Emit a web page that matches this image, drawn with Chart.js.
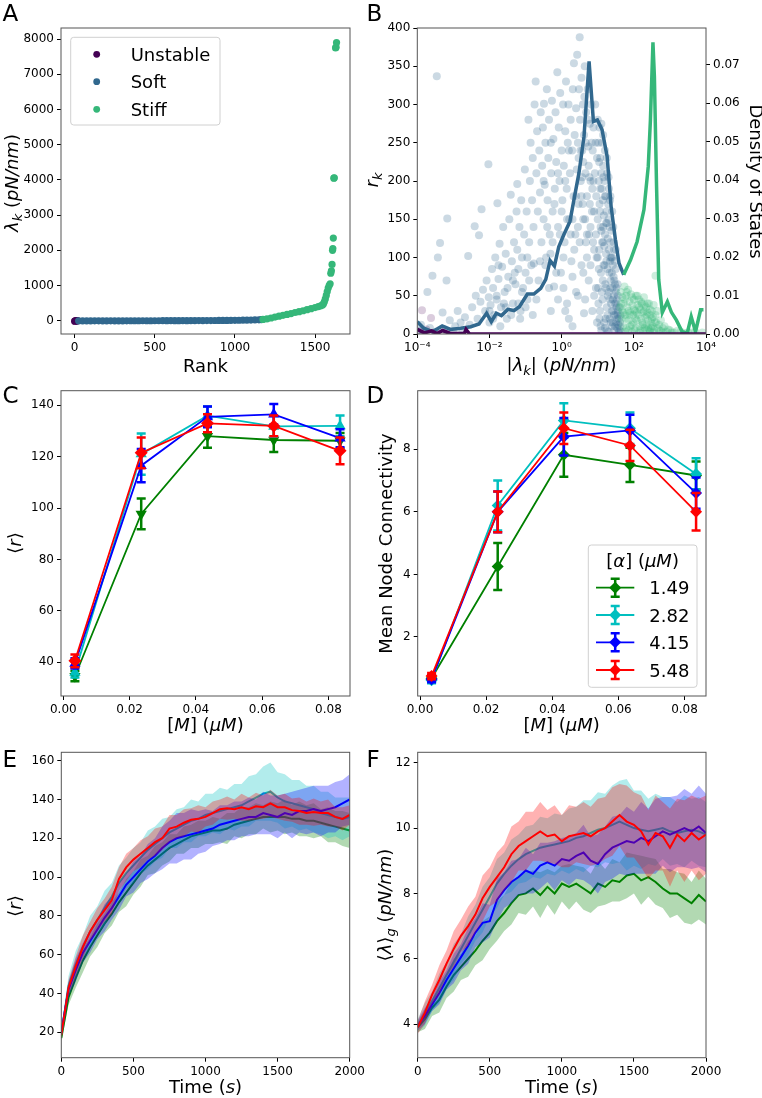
<!DOCTYPE html>
<html>
<head>
<meta charset="utf-8">
<script src="https://cdn.jsdelivr.net/npm/chart.js@4.4.1/dist/chart.umd.min.js"></script>
<style>
body { margin: 0; background: #fff; }
#fig { position: relative; width: 762px; height: 1098px; overflow: hidden; }
canvas { position: absolute; }
svg { position: absolute; left: 0; top: 0; }
</style>
</head>
<body>
<div id="fig">
<canvas id="pA" width="381" height="360" style="left:0;top:0"></canvas>
<canvas id="pB" width="381" height="360" style="left:381px;top:0"></canvas>
<canvas id="pC" width="381" height="360" style="left:0;top:360px"></canvas>
<canvas id="pD" width="381" height="360" style="left:381px;top:360px"></canvas>
<canvas id="pE" width="381" height="378" style="left:0;top:720px"></canvas>
<canvas id="pF" width="381" height="378" style="left:381px;top:720px"></canvas>
<svg id="txt" width="762" height="1098" font-family="DejaVu Sans" fill="#000">
  <text x="2.5" y="20.7" font-size="23">A</text>
  <text x="366.5" y="20.7" font-size="23">B</text>
  <text x="2.5" y="403.3" font-size="23">C</text>
  <text x="366.5" y="403.3" font-size="23">D</text>
  <text x="2.5" y="766.7" font-size="23">E</text>
  <text x="366.5" y="766.7" font-size="23">F</text>

  <text x="205.5" y="372" text-anchor="middle" font-size="18">Rank</text>
  <text x="561.6" y="371" text-anchor="middle" font-size="18"><tspan font-style="italic">|λ</tspan><tspan font-style="italic" font-size="13" dy="4">k</tspan><tspan font-style="italic" dy="-4">|</tspan> (<tspan font-style="italic">pN/nm</tspan>)</text>
  <text x="205.5" y="731" text-anchor="middle" font-size="18">[<tspan font-style="italic">M</tspan>] (<tspan font-style="italic">μM</tspan>)</text>
  <text x="561.6" y="731" text-anchor="middle" font-size="18">[<tspan font-style="italic">M</tspan>] (<tspan font-style="italic">μM</tspan>)</text>
  <text x="205.5" y="1093" text-anchor="middle" font-size="18">Time (<tspan font-style="italic">s</tspan>)</text>
  <text x="561.6" y="1093" text-anchor="middle" font-size="18">Time (<tspan font-style="italic">s</tspan>)</text>

  <text transform="translate(18,183) rotate(-90)" text-anchor="middle" font-size="18"><tspan font-style="italic">λ</tspan><tspan font-style="italic" font-size="13" dy="4">k</tspan><tspan dy="-4"> (</tspan><tspan font-style="italic">pN/nm</tspan>)</text>
  <text transform="translate(378,180) rotate(-90)" text-anchor="middle" font-size="18"><tspan font-style="italic">r</tspan><tspan font-style="italic" font-size="13" dy="4">k</tspan></text>
  <text transform="translate(749.5,181.5) rotate(90)" text-anchor="middle" font-size="18">Density of States</text>
  <text transform="translate(21,543) rotate(-90)" text-anchor="middle" font-size="18">⟨<tspan font-style="italic">r</tspan>⟩</text>
  <text transform="translate(392,543.5) rotate(-90)" text-anchor="middle" font-size="18">Mean Node Connectivity</text>
  <text transform="translate(21,906) rotate(-90)" text-anchor="middle" font-size="18">⟨<tspan font-style="italic">r</tspan>⟩</text>
  <text transform="translate(391,905) rotate(-90)" text-anchor="middle" font-size="18">⟨<tspan font-style="italic">λ</tspan>⟩<tspan font-style="italic" font-size="13" dy="4">g</tspan><tspan dy="-4"> (</tspan><tspan font-style="italic">pN/nm</tspan>)</text>
  <g id="legA"></g>
  <g id="legD"></g>
</svg>
</div>
<script>
// ---- panel A : eigenvalue vs rank ----
const stateNames = ['Unstable', 'Soft', 'Stiff'];
const stateColors = ['#440154', '#31688e', '#35b779'];
const unstableRank = [0, 4, 8, 12, 16, 20];
const unstableLam = [-12, -4, -1.5, -0.6, -0.2, -0.05];
const softRank = [25, 50, 75, 100, 125, 150, 175, 200, 225, 250, 275, 300, 325, 350, 375, 400, 425, 450, 475, 500,
  525, 550, 575, 600, 625, 650, 675, 700, 725, 750, 775, 800, 825, 850, 875, 900, 925, 950, 975, 1000,
  1025, 1050, 1075, 1100, 1125, 1150, 1165];
const softLam = [0.001, 0.003, 0.008, 0.015, 0.03, 0.05, 0.08, 0.12, 0.17, 0.23, 0.3, 0.4, 0.5, 0.62, 0.76, 0.9, 1.05, 1.2, 1.4, 1.6,
  1.8, 2.05, 2.3, 2.6, 2.9, 3.2, 3.6, 4.0, 4.5, 5.0, 5.6, 6.2, 6.9, 7.6, 8.4, 9.3, 10.3, 11.4, 12.6, 14,
  15.5, 17, 19, 21, 24, 28, 32];
const stiffRank = [1175, 1200, 1225, 1250, 1275, 1300, 1325, 1350, 1375, 1400, 1425, 1450, 1475, 1500, 1520, 1535, 1545, 1552, 1558, 1564,
  1570, 1576, 1582, 1588, 1594, 1598, 1602, 1606, 1609, 1611, 1614, 1617, 1620, 1628, 1631, 1634];
const stiffLam = [40, 55, 80, 105, 130, 155, 180, 205, 235, 260, 285, 315, 345, 375, 405, 425, 445, 480, 540, 620,
  720, 830, 930, 1000, 1050, 1350, 1420, 1600, 2000, 2050, 2350, 4050, 4060, 7750, 7770, 7900];
const rankTicks = [0, 500, 1000, 1500];
const lamTicks = [0, 1000, 2000, 3000, 4000, 5000, 6000, 7000, 8000];

// ---- panel B : participation vs |lambda| (log10 |lambda|, r) ----
const softPts = [[-3.95,4],[-3.9,12],[-3.85,2],[-3.72,55],[-3.65,8],[-3.58,76],[-3.5,3],[-3.46,337],[-3.43,100],[-3.37,119],
  [-3.3,28],[-3.25,6],[-3.19,70],[-3.17,151],[-3.1,18],[-3.0,4],[-2.95,10],[-2.88,30],[-2.8,15],[-2.75,3],
  [-2.68,22],[-2.59,102],[-2.55,12],[-2.48,35],[-2.41,141],[-2.38,50],[-2.33,20],[-2.29,129],[-2.25,42],[-2.22,163],
  [-2.18,58],[-2.12,30],[-2.08,70],[-2.03,222],[-2.02,48],[-2.0,15],
  [-1.97,38],[-1.93,85],[-1.9,60],[-1.87,25],[-1.84,100],[-1.8,45],[-1.78,171],[-1.75,72],[-1.72,118],[-1.68,35],
  [-1.65,88],[-1.62,140],[-1.58,55],[-1.55,105],[-1.52,20],[-1.48,75],[-1.45,150],[-1.41,182],[-1.38,95],[-1.35,40],
  [-1.32,120],[-1.28,65],[-1.25,160],[-1.23,196],[-1.23,110],[-1.2,85],[-1.17,140],[-1.14,30],[-1.12,175],[-1.1,100],
  [-1.07,60],[-1.04,130],[-1.02,215],[-1.0,80],
  [-0.97,160],[-0.95,45],[-0.92,280],[-0.9,120],[-0.88,200],[-0.86,250],[-0.84,90],[-0.82,175],[-0.8,230],[-0.78,140],
  [-0.77,92],[-0.75,300],[-0.72,330],[-0.7,210],[-0.68,265],[-0.66,160],[-0.64,70],[-0.62,240],[-0.6,185],[-0.58,290],
  [-0.56,120],[-0.54,220],[-0.52,270],[-0.5,150],[-0.49,301],[-0.47,195],[-0.45,250],[-0.43,100],[-0.41,320],[-0.39,175],
  [-0.37,230],[-0.35,280],[-0.33,130],[-0.31,105],[-0.29,210],[-0.27,305],[-0.25,160],[-0.23,255],[-0.21,62],[-0.19,190],
  [-0.17,290],[-0.15,225],[-0.12,342],[-0.1,140],[-0.08,270],[-0.06,200],[-0.04,315],[-0.02,80],[0,240],
  [0.02,175],[0.04,300],[0.06,220],[0.08,120],[0.1,265],[0.12,330],[0.14,190],[0.15,40],[0.17,250],[0.19,300],
  [0.21,150],[0.23,210],[0.25,280],[0.27,95],[0.29,240],[0.31,320],[0.33,180],[0.34,354],[0.36,260],[0.38,130],
  [0.4,295],[0.42,215],[0.43,365],[0.45,250],[0.47,170],[0.48,320],[0.5,388],[0.51,280],[0.53,200],[0.55,335],
  [0.57,240],[0.59,300],[0.6,150],[0.62,27],[0.62,260],[0.64,350],[0.66,210],[0.68,290],[0.7,180],[0.72,320],
  [0.74,245],[0.76,130],[0.78,275],[0.8,200],[0.82,300],[0.84,160],[0.86,240],[0.88,270],[0.9,110],[0.92,210],
  [0.94,250],[0.96,180],[0.98,230],[1.0,280],
  [0.05,60],[0.2,20],[0.3,75],[0.45,50],[0.55,90],[0.65,45],[0.75,70],[0.85,30],[0.95,60],
  [1.0,150],[1.01,60],[1.02,250],[1.03,200],[1.04,110],[1.05,170],[1.06,30],[1.07,230],[1.08,140],[1.09,80],
  [1.1,210],[1.11,190],[1.12,120],[1.13,45],[1.14,175],[1.15,220],[1.16,90],[1.17,155],[1.18,15],[1.19,200],
  [1.2,130],[1.21,65],[1.22,180],[1.23,105],[1.24,160],[1.25,35],[1.26,145],[1.27,85],[1.28,125],[1.29,170],
  [1.3,55],[1.31,110],[1.32,140],[1.33,20],[1.34,95],[1.35,120],[1.36,70],[1.37,40],[1.38,100],[1.39,80],
  [1.4,10],[1.41,60],[1.42,90],[1.43,30],[1.44,75],[1.45,50],[1.46,5],[1.47,40],[1.48,65],[1.49,25],
  [1.5,55],[1.51,15],[1.52,35],[1.53,45],[1.54,8],[1.55,25],[1.56,30],[1.57,12],[1.58,20],[1.6,5],
  [1.62,15],[1.64,3],[1.1,5],[1.2,8],[1.3,3],[1.15,260],[1.05,270],[1.25,230],[1.35,180],[1.45,110],
  [1.0,100],[1.02,40],[1.04,225],[1.06,160],[1.08,10],[1.1,135],[1.12,250],[1.14,70],[1.16,205],[1.18,115],
  [1.2,180],[1.22,20],[1.24,95],[1.26,210],[1.28,50],[1.3,150],[1.32,80],[1.34,175],[1.36,15],[1.38,135],
  [1.4,100],[1.42,45],[1.44,120],[1.46,70],[1.48,10],[1.5,85],[1.52,60],[1.54,20],[1.56,50],[1.58,2],
  [1.03,85],[1.07,190],[1.11,55],[1.15,140],[1.19,90],[1.23,145],[1.27,25],[1.31,190],[1.35,60],[1.39,30],
  [1.43,140],[1.47,95],[1.51,40],[1.55,65],[1.59,35],[1.61,10],[1.63,25],[1.05,20],[1.25,5],[1.45,25],
  [1.2,240],[1.1,275],[1.3,205],[1.4,160],[1.15,120],[1.35,100],[1.5,110],[1.22,60],[1.33,45],[1.41,15],
  [0.5,120],[0.55,180],[0.6,225],[0.65,150],[0.7,100],[0.75,220],[0.8,140],[0.85,190],[0.9,160],[0.95,130],
  [0.52,240],[0.58,170],[0.63,310],[0.67,120],[0.73,280],[0.78,170],[0.83,250],[0.88,200],[0.93,300],[0.97,100],
  [0.6,80],[0.7,130],[0.8,90],[0.9,50],[0.98,15],[0.87,120],[0.77,205],[0.67,250],[0.57,205],[0.47,230],
  [-0.5,200],[-0.4,140],[-0.3,250],[-0.2,170],[-0.1,210],[0,160],[0.1,200],[0.2,240],[0.3,150],[0.4,180],
  [-0.45,90],[-0.35,60],[-0.25,120],[-0.15,80],[-0.05,130],[0.05,100],[0.15,150],[0.25,130],[0.35,110],[0.45,140],
  [-0.3,30],[-0.1,45],[0.1,30],[0.3,10],[0.4,55],
  [-2.0,30],[-1.9,20],[-1.8,50],[-1.7,10],[-1.6,40],[-1.5,60],[-1.4,25],[-1.3,80],[-1.2,40],[-1.1,55],
  [-1.0,35],[-0.9,70],[-0.8,25],[-0.7,45],[-0.6,95],[-1.75,90],[-1.55,35],[-1.35,70],[-1.15,20],[-0.95,100]];
const stiffPts = [[1.62,35],[1.64,55],[1.66,20],[1.68,48],[1.7,10],[1.72,40],[1.74,62],[1.76,25],[1.78,50],[1.8,8],
  [1.82,35],[1.84,58],[1.86,18],[1.88,42],[1.9,28],[1.92,52],[1.94,12],[1.96,38],[1.98,25],[2.0,45],
  [2.02,5],[2.04,30],[2.06,50],[2.08,18],[2.1,38],[2.12,25],[2.14,45],[2.16,10],[2.18,32],[2.2,20],
  [2.22,40],[2.24,15],[2.26,28],[2.28,48],[2.3,8],[2.32,22],[2.34,35],[2.36,12],[2.38,28],[2.4,18],
  [2.42,40],[2.44,5],[2.46,25],[2.48,15],[2.5,30],[2.52,10],[2.54,22],[2.56,6],[2.6,76],[2.62,15],
  [2.65,8],[2.7,12],[2.75,4],[2.8,8],[2.9,3],[3.0,5],[3.1,2],[3.3,3],[3.5,2],[3.7,3],[3.9,2],
  [1.75,3],[1.85,5],[1.95,3],[2.05,8],[2.15,2],[2.25,4],[2.35,6],[2.45,3],[2.55,2],
  [1.65,40],[1.7,28],[1.75,45],[1.8,55],[1.85,30],[1.9,10],[1.95,48],[2.0,32],[2.05,20],[2.1,50],
  [2.15,35],[2.2,42],[2.25,12],[2.3,38],[2.35,25],[2.4,8],[2.45,32],[2.5,20],[2.55,38],[2.6,25],
  [2.65,30],[2.7,5],[2.75,18],[2.8,2],[2.85,10],[2.95,6],[3.05,2],[3.2,4],[3.4,1],[3.6,2],
  [1.68,30],[1.78,20],[1.88,25],[1.98,15],[2.08,28],[2.18,5],[2.28,30],[2.38,40],[2.48,8],[2.58,15]];
const unstablePts = [[-3.87,31],[-3.62,21],[-3.9,3],[-3.75,6],[-3.5,2],[-3.2,4]];
// density of states curves (log10 |lambda|, density)
const softDos = [[-4,0.0032],[-3.82,0.0015],[-3.58,0.0006],[-3.31,0.0021],[-3.08,0.0012],[-2.8,0.0015],[-2.52,0.0019],[-2.29,0.0026],
  [-2.08,0.0054],[-1.95,0.0032],[-1.81,0.0054],[-1.67,0.0048],[-1.49,0.0064],[-1.32,0.0061],[-1.17,0.0071],[-0.95,0.0104],
  [-0.77,0.0104],[-0.58,0.0119],[-0.44,0.0142],[-0.32,0.0191],[-0.2,0.0177],[-0.08,0.0227],[0.06,0.0258],[0.23,0.0293],
  [0.34,0.0349],[0.48,0.0419],[0.62,0.0514],[0.76,0.0709],[0.88,0.0553],[0.99,0.0557],[1.12,0.0531],[1.26,0.0462],
  [1.37,0.0332],[1.49,0.0245],[1.59,0.0184],[1.72,0.0154]];
const stiffDos = [[1.72,0.0154],[1.91,0.0193],[2.09,0.024],[2.28,0.0323],[2.4,0.0436],[2.46,0.0557],[2.53,0.0759],[2.57,0.067],
  [2.63,0.0384],[2.69,0.0141],[2.79,0.0056],[2.93,0.0084],[3.04,0.0057],[3.18,0.0036],[3.34,0.0006],[3.48,0.0002],
  [3.59,0.0045],[3.71,0.0006],[3.85,0.0063],[3.93,0.0063]];
const unstableDos = [[-4,0.0012],[-3.8,0.0003],[-3.6,0.0008],[-3.45,0.0001],[-3.3,0.0009],[-3.1,0.0002],[-2.7,0.0001],
  [-2.65,0.0012],[-2.55,0],[4,0]];
const logTicks = [1e-4, 1e-2, 1, 1e2, 1e4];
const logTickLabels = ['10\u207B\u2074', '10\u207B\u00B2', '10\u2070', '10\u00B2', '10\u2074'];
const rTicks = [0, 50, 100, 150, 200, 250, 300, 350, 400];
const dosTicks = [0, 0.01, 0.02, 0.03, 0.04, 0.05, 0.06, 0.07];

// ---- panels C, D : vs myosin concentration ----
const alphaNames = ['1.49', '2.82', '4.15', '5.48'];
const alphaColors = ['#008000', '#00bfbf', '#0000ff', '#ff0000'];
const myosin = [0.0035, 0.0235, 0.0435, 0.0635, 0.0835];
const rMean = [
  [34.5, 97.7, 128, 126.5, 126.2],
  [36, 121, 136, 131.8, 132],
  [39.5, 116.5, 135.5, 136.5, 127.2],
  [40.5, 121.5, 133, 132, 122.3]];
const rErr = [
  [2, 6, 4.5, 4.7, 3],
  [2, 8, 3.5, 4, 4],
  [2, 6.5, 4, 4, 3.5],
  [2.5, 6, 3.5, 4, 5.2]];
const connMean = [
  [0.68, 4.25, 7.82, 7.5, 7.16],
  [0.62, 6.2, 8.92, 8.67, 7.21],
  [0.65, 6.0, 8.4, 8.6, 6.6],
  [0.75, 6.0, 8.67, 8.12, 6.0]];
const connErr = [
  [0.1, 0.75, 0.7, 0.55, 0.45],
  [0.1, 0.8, 0.55, 0.5, 0.5],
  [0.1, 0.65, 0.6, 0.5, 0.5],
  [0.1, 0.65, 0.5, 0.5, 0.6]];
const markerC = ['triangle', 'triangle', 'triangle', 'rectRot'];
const rotC = [180, 0, 0, 0];
const myoTicks = [0, 0.02, 0.04, 0.06, 0.08];
const rTicksC = [40, 60, 80, 100, 120, 140];
const connTicks = [2, 4, 6, 8];

// ---- panels E, F : time courses ----
const timeS = [0, 50, 100, 150, 200, 250, 300, 350, 400, 450, 500, 550, 600, 650, 700, 750, 800, 850, 900, 950,
  1000, 1050, 1100, 1150, 1200, 1250, 1300, 1350, 1400, 1450, 1500, 1550, 1600, 1650, 1700, 1750, 1800, 1850, 1900, 1950, 2000];
const rTime = [
  [17, 38, 48, 57, 64, 70, 76, 81, 87, 92, 97, 102, 106, 109, 112, 115, 117, 119, 121, 122, 123, 124, 124, 125, 127, 128, 129, 130, 131, 131, 131, 131, 130, 130, 129, 129, 128, 127, 126, 125, 124],
  [19, 44, 55, 64, 72, 78, 84, 90, 97, 102, 106, 110, 114, 117, 120, 123, 125, 127, 129, 130, 132, 133, 134, 135, 136, 137, 139, 141, 143, 144, 141, 139, 138, 137, 136, 135, 133, 132, 131, 130, 131],
  [20, 42, 52, 61, 67, 73, 79, 84, 90, 96, 100, 104, 108, 111, 115, 118, 120, 121, 122, 123, 124, 125, 127, 128, 129, 130, 131, 131, 133, 132, 131, 133, 132, 134, 134, 135, 134, 135, 136, 138, 140],
  [18.5, 43, 54, 64, 72, 78, 83, 88, 99, 105, 109, 112, 115, 118, 120, 125, 126, 128, 129.5, 130, 131, 133, 135, 135.5, 135, 136, 135, 136.5, 136, 138, 136, 136, 134.5, 134, 133, 133.5, 133, 133, 131, 130, 132]];
const rTimeErr = [
  [2, 4, 5, 6, 5, 6, 5, 6, 5, 7, 6, 7, 5, 7, 6, 7, 5, 7, 6, 7, 6, 7, 6, 8, 6, 8, 7, 8, 6, 8, 7, 9, 7, 9, 8, 9, 7, 9, 8, 9, 9],
  [3, 5, 7, 6, 8, 7, 9, 7, 9, 8, 9, 8, 10, 9, 10, 8, 10, 9, 11, 9, 11, 10, 12, 10, 12, 11, 13, 12, 14, 15, 13, 14, 12, 13, 11, 12, 11, 12, 10, 11, 10],
  [3, 4, 6, 5, 6, 5, 7, 6, 7, 6, 8, 7, 9, 9, 11, 11, 13, 12, 13, 11, 11, 9, 10, 9, 10, 9, 10, 9, 11, 10, 11, 10, 12, 11, 12, 12, 13, 12, 13, 12, 13],
  [2, 4, 5, 6, 5, 6, 6, 7, 6, 7, 6, 7, 6, 7, 6, 7, 6, 7, 6, 7, 5, 6, 5, 6, 5, 7, 6, 7, 6, 7, 6, 7, 6, 7, 6, 7, 6, 7, 5, 6, 5]];
const lamTime = [
  [3.9, 4.15, 4.5, 4.75, 5.15, 5.5, 5.75, 6.0, 6.25, 6.55, 6.8, 7.15, 7.4, 7.7, 7.95, 8.0, 8.15, 7.95, 8.2, 8.0, 8.3, 8.2, 8.3, 8.15, 8.0, 8.3, 8.2, 8.4, 8.35, 8.55, 8.6, 8.4, 8.5, 8.35, 8.15, 8.0, 8.0, 7.85, 7.7, 7.95, 7.75],
  [3.95, 4.3, 4.7, 5.1, 5.5, 5.9, 6.3, 6.7, 7.1, 7.5, 7.9, 8.3, 8.6, 8.85, 9.05, 9.2, 9.3, 9.4, 9.45, 9.5, 9.55, 9.6, 9.7, 9.75, 9.85, 9.95, 10.0, 10.1, 10.2, 10.1, 10.0, 9.95, 9.9, 9.95, 10.0, 9.9, 9.85, 9.9, 9.95, 9.9, 9.8],
  [3.95, 4.25, 4.6, 4.95, 5.35, 5.7, 6.05, 6.4, 6.8, 7.1, 7.15, 7.8, 8.1, 8.35, 8.5, 8.7, 8.6, 8.85, 8.95, 8.85, 9.05, 9.0, 9.15, 9.25, 9.0, 8.9, 9.2, 9.4, 9.5, 9.6, 9.55, 9.7, 9.6, 9.75, 9.9, 9.8, 9.9, 10.0, 9.9, 10.05, 9.85],
  [3.9, 4.35, 4.9, 5.35, 5.85, 6.3, 6.7, 7.0, 7.35, 7.85, 8.2, 8.5, 8.8, 9.2, 9.45, 9.6, 9.75, 9.9, 9.75, 9.8, 9.6, 9.75, 9.8, 9.85, 9.75, 9.9, 10.0, 10.2, 10.4, 10.2, 10.1, 9.9, 9.5, 9.85, 9.75, 9.4, 9.8, 9.6, 9.85, 9.65, 9.8]];
const lamTimeErr = [
  [0.15, 0.3, 0.25, 0.4, 0.35, 0.5, 0.4, 0.55, 0.45, 0.6, 0.5, 0.6, 0.55, 0.65, 0.55, 0.65, 0.55, 0.7, 0.55, 0.65, 0.55, 0.7, 0.55, 0.65, 0.6, 0.7, 0.55, 0.65, 0.6, 0.7, 0.6, 0.75, 0.6, 0.7, 0.6, 0.75, 0.65, 0.75, 0.65, 0.75, 0.7],
  [0.2, 0.35, 0.3, 0.45, 0.4, 0.55, 0.45, 0.6, 0.55, 0.7, 0.6, 0.75, 0.65, 0.8, 0.75, 0.85, 0.8, 0.95, 0.85, 0.95, 0.85, 1.0, 0.95, 1.1, 1.0, 1.15, 1.05, 1.2, 1.25, 1.4, 1.15, 1.2, 1.0, 1.1, 0.95, 1.05, 0.95, 1.1, 0.95, 1.05, 1.0],
  [0.15, 0.25, 0.2, 0.35, 0.3, 0.45, 0.4, 0.55, 0.45, 0.6, 0.5, 0.65, 0.55, 0.65, 0.55, 0.7, 0.6, 0.7, 0.6, 0.75, 0.65, 0.75, 0.7, 0.85, 0.75, 0.9, 0.85, 0.95, 0.9, 1.05, 0.95, 1.1, 1.0, 1.15, 1.05, 1.15, 1.1, 1.2, 1.15, 1.25, 1.2],
  [0.2, 0.35, 0.3, 0.45, 0.4, 0.55, 0.5, 0.6, 0.55, 0.7, 0.6, 0.75, 0.7, 0.85, 0.75, 0.9, 0.75, 0.9, 0.8, 0.9, 0.8, 0.95, 0.85, 0.95, 0.9, 1.0, 0.95, 1.05, 0.95, 1.1, 1.0, 1.1, 1.05, 1.15, 1.05, 1.2, 1.1, 1.25, 1.15, 1.25, 1.2]];
const bandColors = ['rgba(0,128,0,0.3)', 'rgba(0,191,191,0.3)', 'rgba(0,0,255,0.3)', 'rgba(255,0,0,0.3)'];
const timeTicks = [0, 500, 1000, 1500, 2000];
const rTicksE = [20, 40, 60, 80, 100, 120, 140, 160];
const lamTicksF = [4, 6, 8, 10, 12];

// ---------------------------------------------------------------
const tickFont = { family: 'DejaVu Sans', size: 12 };
const plain = v => String(v);

function axis(type, pos, min, max, ticks, fmt, size) {
  const horiz = pos === 'bottom';
  return {
    type: type, position: pos, min: min, max: max,
    afterBuildTicks: s => { s.ticks = ticks.map(v => ({ value: v })); },
    afterFit: s => { if (horiz) s.height = size; else s.width = size; },
    ticks: { callback: fmt, font: tickFont, color: '#000', padding: 3, maxRotation: 0, autoSkip: false },
    grid: { drawOnChartArea: false, drawTicks: true, tickLength: 4, color: '#000', lineWidth: 1 },
    border: { display: false }
  };
}

// box round the plot area, like matplotlib spines
const framePlugin = {
  id: 'frame',
  afterDatasetsDraw(chart) {
    const a = chart.chartArea, ctx = chart.ctx;
    ctx.save();
    ctx.strokeStyle = '#555';
    ctx.lineWidth = 1;
    ctx.strokeRect(a.left, a.top, a.right - a.left, a.bottom - a.top);
    ctx.restore();
  }
};

// vertical error bars with caps, drawn under each dataset's markers
const errorBarPlugin = {
  id: 'errbars',
  beforeDatasetDraw(chart, args) {
    const ds = chart.data.datasets[args.index];
    if (!ds.errors) return;
    const ctx = chart.ctx, ys = chart.scales.y;
    ctx.save();
    ctx.strokeStyle = ds.borderColor;
    ctx.lineWidth = 2.5;
    args.meta.data.forEach((pt, i) => {
      const v = ds.data[i].y, e = ds.errors[i];
      const top = ys.getPixelForValue(v + e), bot = ys.getPixelForValue(v - e);
      ctx.beginPath();
      ctx.moveTo(pt.x, top); ctx.lineTo(pt.x, bot);
      ctx.moveTo(pt.x - 4.5, top); ctx.lineTo(pt.x + 4.5, top);
      ctx.moveTo(pt.x - 4.5, bot); ctx.lineTo(pt.x + 4.5, bot);
      ctx.stroke();
    });
    ctx.restore();
  }
};

function makeChart(id, datasets, scales, pad) {
  return new Chart(document.getElementById(id), {
    type: 'scatter',
    data: { datasets: datasets },
    options: {
      responsive: false, animation: false, events: [],
      layout: { padding: pad },
      plugins: { legend: { display: false }, tooltip: { enabled: false } },
      scales: scales
    },
    plugins: [framePlugin, errorBarPlugin]
  });
}

const pts = (xs, ys) => xs.map((x, i) => ({ x: x, y: ys[i] }));
const logPts = arr => arr.map(p => ({ x: Math.pow(10, p[0]), y: p[1] }));

// A
const ranks = [unstableRank, softRank, stiffRank];
const lams = [unstableLam, softLam, stiffLam];
makeChart('pA', ranks.map((r, k) => ({
  data: pts(r, lams[k]), backgroundColor: stateColors[k], pointRadius: 3.6, pointBorderWidth: 0, order: 3 - k
})), {
  x: axis('linear', 'bottom', -85, 1718, rankTicks, plain, 26),
  y: axis('linear', 'left', -375, 8315, lamTicks, plain, 61)
}, { top: 28, right: 31, left: 0, bottom: 0 });

// B
makeChart('pB', [
  { data: logPts(softPts), backgroundColor: 'rgba(49,104,142,0.25)', pointRadius: 4, pointBorderWidth: 0, order: 12 },
  { data: logPts(stiffPts), backgroundColor: 'rgba(53,183,121,0.25)', pointRadius: 4, pointBorderWidth: 0, order: 11 },
  { data: logPts(unstablePts), backgroundColor: 'rgba(68,1,84,0.2)', pointRadius: 4, pointBorderWidth: 0, order: 10 },
  { data: logPts(softDos), showLine: true, borderColor: stateColors[1], borderWidth: 3.5, pointRadius: 0, yAxisID: 'y2', order: 3 },
  { data: logPts(stiffDos), showLine: true, borderColor: stateColors[2], borderWidth: 3.5, pointRadius: 0, yAxisID: 'y2', order: 2 },
  { data: logPts(unstableDos), showLine: true, borderColor: stateColors[0], borderWidth: 3.5, pointRadius: 0, yAxisID: 'y2', order: 1 }
], {
  x: axis('logarithmic', 'bottom', 1e-4, 1e4, logTicks, (v, i) => logTickLabels[i], 26),
  y: axis('linear', 'left', 0, 400, rTicks, plain, 36.3),
  y2: axis('linear', 'right', 0, 0.0796, dosTicks, v => v.toFixed(2), 56)
}, { top: 28, right: 0, left: 0, bottom: 0 });

// C and D
function errorSets(means, errs, styles, rots, radius) {
  return means.map((m, k) => ({
    data: pts(myosin, m), errors: errs[k], showLine: true,
    borderColor: alphaColors[k], backgroundColor: alphaColors[k], borderWidth: 1.8,
    pointStyle: styles[k], rotation: rots[k], pointRadius: radius, pointBorderWidth: 0,
    order: 4 - k
  }));
}
const xFmt = v => v.toFixed(2);
makeChart('pC', errorSets(rMean, rErr, markerC, rotC, 6.5), {
  x: axis('linear', 'bottom', -0.0007, 0.0865, myoTicks, xFmt, 24),
  y: axis('linear', 'left', 26.8, 145.7, rTicksC, plain, 61)
}, { top: 30.7, right: 31, left: 0, bottom: 0 });
makeChart('pD', errorSets(connMean, connErr, ['rectRot', 'rectRot', 'rectRot', 'rectRot'], [0, 0, 0, 0], 6), {
  x: axis('linear', 'bottom', -0.0007, 0.0865, myoTicks, xFmt, 24),
  y: axis('linear', 'left', 0.114, 9.87, connTicks, plain, 36.7)
}, { top: 30.7, right: 56, left: 0, bottom: 0 });

// E and F : band (lower, upper filled to lower) then line, per series
function bandSets(means, errs) {
  const out = [];
  means.forEach((m, k) => {
    const o = 8 - 2 * k;
    out.push({ data: pts(timeS, m.map((v, i) => v - errs[k][i])), showLine: true, borderWidth: 0, pointRadius: 0, order: o });
    out.push({ data: pts(timeS, m.map((v, i) => v + errs[k][i])), showLine: true, borderWidth: 0, pointRadius: 0,
      fill: '-1', backgroundColor: bandColors[k], order: o });
    out.push({ data: pts(timeS, m), showLine: true, borderColor: alphaColors[k], borderWidth: 2, pointRadius: 0, order: o - 1 });
  });
  return out;
}
makeChart('pE', bandSets(rTime, rTimeErr), {
  x: axis('linear', 'bottom', 0, 2000, timeTicks, plain, 40.3),
  y: axis('linear', 'left', 6.9, 164.3, rTicksE, plain, 61.3)
}, { top: 32.3, right: 31.3, left: 0, bottom: 0 });
makeChart('pF', bandSets(lamTime, lamTimeErr), {
  x: axis('linear', 'bottom', 0, 2000, timeTicks, plain, 40.3),
  y: axis('linear', 'left', 2.97, 12.32, lamTicksF, plain, 36.7)
}, { top: 32.3, right: 56, left: 0, bottom: 0 });

// legends
const NS = 'http://www.w3.org/2000/svg';
function el(parent, tag, attrs, text) {
  const e = document.createElementNS(NS, tag);
  for (const k in attrs) e.setAttribute(k, attrs[k]);
  if (text !== undefined) e.textContent = text;
  parent.appendChild(e);
  return e;
}
const legA = document.getElementById('legA');
el(legA, 'rect', { x: 70.7, y: 37.3, width: 149.3, height: 87.7, rx: 3, fill: '#fff', stroke: '#d0d0d0', 'stroke-width': 1 });
const legAY = [54.3, 81.7, 109.3];
stateNames.forEach((n, k) => {
  el(legA, 'circle', { cx: 96.7, cy: legAY[k], r: 3.4, fill: stateColors[k] });
  el(legA, 'text', { x: 130.7, y: legAY[k] + 6.5, 'font-size': 18 }, n);
});
const legD = document.getElementById('legD');
el(legD, 'rect', { x: 588.3, y: 545, width: 108.7, height: 142.3, rx: 3, fill: '#fff', stroke: '#d0d0d0', 'stroke-width': 1 });
const legTitle = el(legD, 'text', { x: 642.6, y: 567, 'font-size': 18, 'text-anchor': 'middle' });
legTitle.innerHTML = '[<tspan font-style="italic">α</tspan>]  (<tspan font-style="italic">μM</tspan>)';
legTitle.setAttribute('xml:space', 'preserve');
const legDY = [587.7, 615, 642.3, 670];
alphaNames.forEach((n, k) => {
  const y = legDY[k], c = alphaColors[k], cx = 615.2;
  el(legD, 'line', { x1: 596, y1: y, x2: 634.3, y2: y, stroke: c, 'stroke-width': 1.8 });
  el(legD, 'path', { d: `M${cx} ${y - 9}V${y + 9}M${cx - 4.5} ${y - 9}H${cx + 4.5}M${cx - 4.5} ${y + 9}H${cx + 4.5}`,
    stroke: c, 'stroke-width': 2.5, fill: 'none' });
  el(legD, 'path', { d: `M${cx} ${y - 6}L${cx + 6} ${y}L${cx} ${y + 6}L${cx - 6} ${y}Z`, fill: c });
  el(legD, 'text', { x: 649.3, y: y + 6.5, 'font-size': 18 }, n);
});
</script>
</body>
</html>
